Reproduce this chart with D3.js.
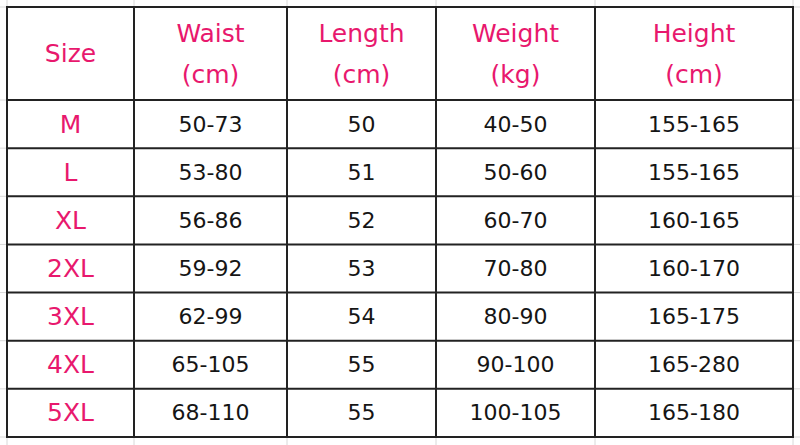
<!DOCTYPE html>
<html><head><meta charset="utf-8">
<script src="https://cdn.jsdelivr.net/npm/d3@7"></script>
<style>html,body{margin:0;padding:0;background:#fff;}svg{display:block;}</style>
</head><body>
<svg id="c" width="800" height="445"></svg>
<script>
const headers = [["Size"], ["Waist","(cm)"], ["Length","(cm)"], ["Weight","(kg)"], ["Height","(cm)"]];
const sizes = ["M","L","XL","2XL","3XL","4XL","5XL"];
const waist = ["50-73","53-80","56-86","59-92","62-99","65-105","68-110"];
const lengthCm = ["50","51","52","53","54","55","55"];
const weightKg = ["40-50","50-60","60-70","70-80","80-90","90-100","100-105"];
const heightCm = ["155-165","155-165","160-165","160-170","165-175","165-280","165-180"];

const W = 800, H = 445;
const colEdges = [7, 134, 287, 436, 595, 793];
const tableTop = 7, headBottom = 100, tableBottom = 437;
const pink = "#e8186d", ink = "#151515", lineC = "#222";
const font = "'DejaVu Sans', sans-serif";

const svg = d3.select("#c");
svg.append("rect").attr("width", W).attr("height", H).attr("fill", "#fff");

const y = d3.scaleBand().domain(sizes).range([headBottom, tableBottom]);
const cols = d3.range(5);
const x = d3.scaleOrdinal().domain(cols).range(colEdges.slice(0, 5));
const cw = i => colEdges[i + 1] - colEdges[i];
const cx = i => x(i) + cw(i) / 2;

// faint spreadsheet gridlines outside the table
const g0 = svg.append("g").attr("stroke", "#d8d8d8").attr("stroke-width", 1);
colEdges.forEach(e => {
  g0.append("line").attr("x1", e).attr("x2", e).attr("y1", 0).attr("y2", tableTop);
  g0.append("line").attr("x1", e).attr("x2", e).attr("y1", tableBottom).attr("y2", H);
});
const hEdges = [tableTop, headBottom].concat(sizes.map(s => y(s) + y.bandwidth()));
hEdges.forEach(e => {
  g0.append("line").attr("x1", 0).attr("x2", colEdges[0]).attr("y1", e).attr("y2", e);
  g0.append("line").attr("x1", colEdges[5]).attr("x2", W).attr("y1", e).attr("y2", e);
});

// table grid
const g = svg.append("g").attr("stroke", lineC).attr("stroke-width", 2);
colEdges.forEach(e => g.append("line").attr("x1", e).attr("x2", e).attr("y1", tableTop).attr("y2", tableBottom));
hEdges.forEach(e => g.append("line").attr("x1", colEdges[0] - 1).attr("x2", colEdges[5] + 1).attr("y1", e).attr("y2", e));

// headers
const hc = (tableTop + headBottom) / 2;
headers.forEach((lines, i) => {
  lines.forEach((t, j) => {
    const yy = lines.length === 1 ? hc : hc + (j === 0 ? -20 : 21);
    svg.append("text").attr("x", cx(i)).attr("y", yy)
      .attr("text-anchor", "middle").attr("dominant-baseline", "central")
      .attr("font-family", font).attr("font-size", 25).attr("fill", pink).text(t);
  });
});

// body
const columns = [sizes, waist, lengthCm, weightKg, heightCm];
columns.forEach((arr, i) => {
  svg.append("g").selectAll("text").data(arr).join("text")
    .attr("x", cx(i)).attr("y", (d, k) => y(sizes[k]) + y.bandwidth() / 2)
    .attr("text-anchor", "middle").attr("dominant-baseline", "central")
    .attr("font-family", font).attr("font-size", i === 0 ? 25 : 22)
    .attr("fill", i === 0 ? pink : ink).text(d => d);
});
</script>
</body></html>
